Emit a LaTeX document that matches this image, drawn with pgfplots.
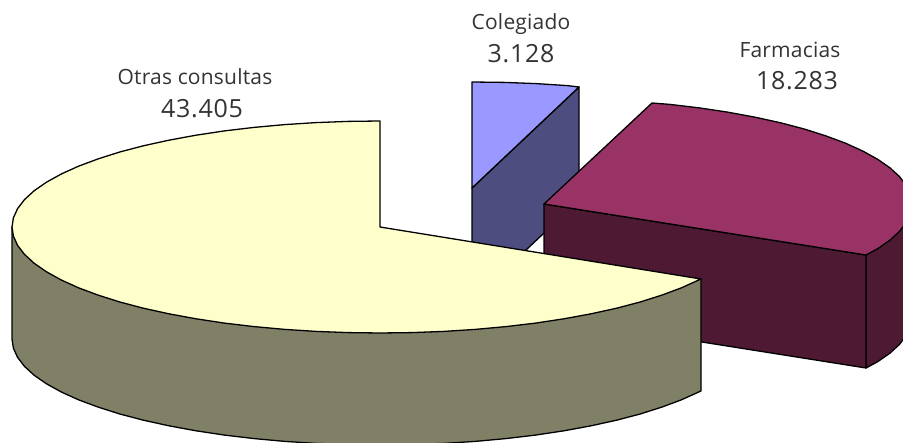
\documentclass[border=0pt]{standalone}
\usepackage{pgfplots}
\pgfplotsset{compat=1.18}
\usepackage{fontspec}
\setmainfont{Open Sans}
\definecolor{txt}{HTML}{333333}
\definecolor{lavtop}{HTML}{9999FF}
\definecolor{lavside}{HTML}{4D4D80}
\definecolor{martop}{HTML}{993366}
\definecolor{marside}{HTML}{4D1933}
\definecolor{yeltop}{HTML}{FFFFCC}
\definecolor{yelside}{HTML}{808066}
\newcommand{\lab}[1]{{\fontsize{21}{24}\selectfont\addfontfeature{LetterSpace=1}#1}}
\newcommand{\val}[1]{{\fontsize{25}{28}\selectfont\addfontfeature{LetterSpace=3}#1}}
\begin{document}
\begin{tikzpicture}
\begin{axis}[
  scale only axis, width=903pt, height=443pt,
  anchor=south west, at={(0pt,0pt)},
  hide axis, xmin=0, xmax=903, ymin=0, ymax=443, y dir=reverse,
  clip=true,
  every axis plot/.append style={draw=black, line width=1.3pt, mark=none, line join=round},
]
% Colegiado
\addplot[fill=lavside] coordinates {(472,188)(579,87)(579,200)(472,301)} --cycle;
\addplot[fill=lavtop] coordinates {(472,82)(504.1,82.4)(535.9,83.6)(567.2,85.6)(579,87)(472,188)} --cycle;
% Farmacias
\addplot[fill=marside] coordinates {(866,255)(912,204)(912,317)(910.6,326.2)(906.4,335.4)(899.5,344.4)(889.8,353.3)(877.5,361.8)(866,368)} --cycle;
\addplot[fill=marside] coordinates {(544,204)(866,255)(866,368)(544,317)} --cycle;
\addplot[fill=martop] coordinates {(544,204)(652,103)(669.9,104.4)(699.5,107.9)(728,112.2)(755.1,117.2)(780.6,122.8)(804.2,129)(825.9,135.9)(845.5,143.2)(862.7,151)(877.5,159.2)(889.8,167.7)(899.5,176.6)(906.4,185.6)(910.6,194.8)(912,204)(910.6,213.2)(906.4,222.4)(899.5,231.4)(889.8,240.3)(877.5,248.8)(866,255)} --cycle;
% Otras consultas
\addplot[fill=yelside] coordinates {(701,279)(701,391)(698.7,392)(681.5,399.8)(661.9,407.1)(640.2,414)(616.6,420.2)(591.1,425.8)(564,430.8)(535.5,435.1)(505.9,438.6)(475.2,441.4)(443.9,443.4)(412.1,444.6)(380,445)(347.9,444.6)(316.1,443.4)(284.8,441.4)(254.1,438.6)(224.5,435.1)(196,430.8)(168.9,425.8)(143.4,420.2)(119.8,414)(98.1,407.1)(78.5,399.8)(61.3,392)(46.5,383.8)(34.2,375.3)(24.5,366.4)(17.6,357.4)(13.4,348.2)(12,339)(12,227)} --cycle;
\addplot[fill=yeltop] coordinates {(380,227)(380,121)(347.9,121.4)(316.1,122.6)(284.8,124.6)(254.1,127.4)(224.5,130.9)(196,135.2)(168.9,140.2)(143.4,145.8)(119.8,152)(98.1,158.9)(78.5,166.2)(61.3,174)(46.5,182.2)(34.2,190.7)(24.5,199.6)(17.6,208.6)(13.4,217.8)(12,227)(13.4,236.2)(17.6,245.4)(24.5,254.4)(34.2,263.3)(46.5,271.8)(61.3,280)(78.5,287.8)(98.1,295.1)(119.8,302)(143.4,308.2)(168.9,313.8)(196,318.8)(224.5,323.1)(254.1,326.6)(284.8,329.4)(316.1,331.4)(347.9,332.6)(380,333)(412.1,332.6)(443.9,331.4)(475.2,329.4)(505.9,326.6)(535.5,323.1)(564,318.8)(591.1,313.8)(616.6,308.2)(640.2,302)(661.9,295.1)(681.5,287.8)(698.7,280)(701,279)} --cycle;
\node[text=txt, inner sep=0pt] at (axis cs:195,77) {\lab{Otras consultas}};
\node[text=txt, inner sep=0pt] at (axis cs:202,109) {\val{43.405}};
\node[text=txt, inner sep=0pt] at (axis cs:521,24) {\lab{Colegiado}};
\node[text=txt, inner sep=0pt] at (axis cs:521,54) {\val{3.128}};
\node[text=txt, inner sep=0pt] at (axis cs:790,50) {\lab{Farmacias}};
\node[text=txt, inner sep=0pt] at (axis cs:797,81) {\val{18.283}};
\end{axis}
\pgfresetboundingbox
\path[use as bounding box] (0pt,0pt) rectangle (903pt,443pt);
\end{tikzpicture}
\end{document}
